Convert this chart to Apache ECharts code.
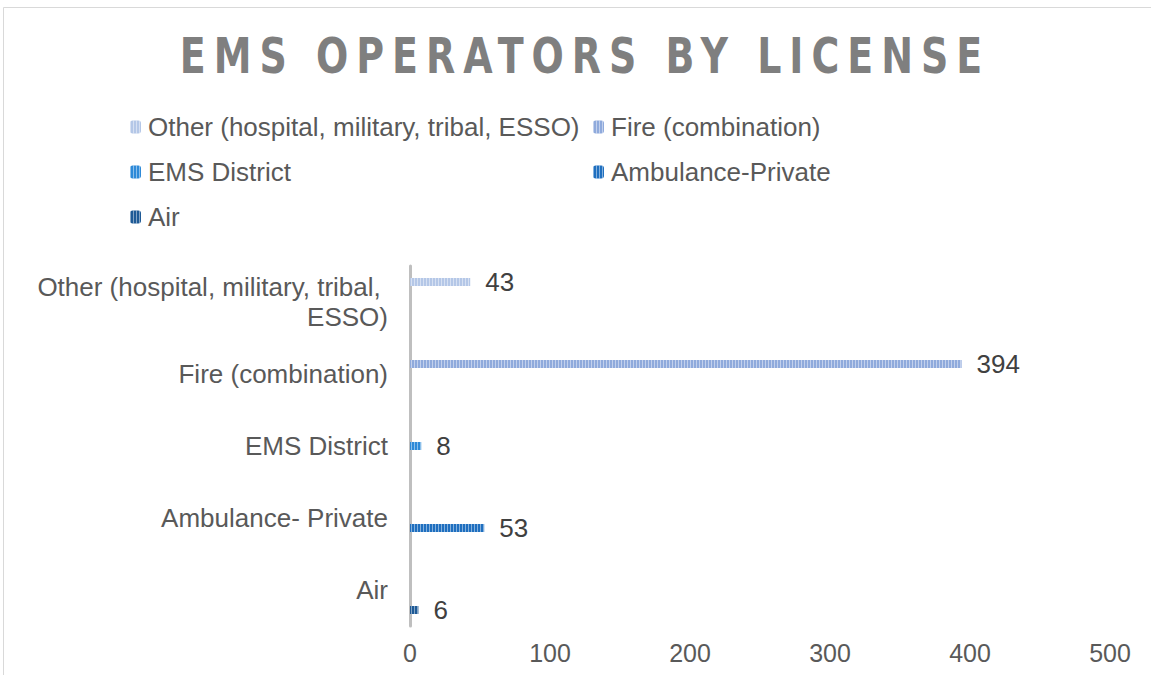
<!DOCTYPE html>
<html>
<head>
<meta charset="utf-8">
<title>EMS Operators by License</title>
<script src="https://cdn.jsdelivr.net/npm/echarts@6/dist/echarts.min.js"></script>
<style>
  html, body { margin: 0; padding: 0; background: #fff; }
  #chart { width: 1151px; height: 675px; }
</style>
</head>
<body>
<div id="chart"></div>
<script>
// categories bottom to top (ECharts category y axis starts at the bottom)
const categories = ['Air', 'Ambulance- Private', 'EMS District', 'Fire (combination)', 'Other (hospital, military, tribal, ESSO)']
const counts = [6, 53, 8, 394, 43]

// series in legend order; each one holds the value of a single category
const seriesNames = ['Other (hospital, military, tribal, ESSO)', 'Fire (combination)', 'EMS District', 'Ambulance-Private', 'Air']
const seriesCategory = [4, 3, 2, 1, 0]
const seriesColors = ['#b4c7e7', '#8faadc', '#2e8ad8', '#1f6fbf', '#1e5a96']

const xTicks = [0, 100, 200, 300, 400, 500]

const labelFont = "'Liberation Sans', Arial, sans-serif"
const titleText = 'EMS OPERATORS BY LICENSE'

const chart = echarts.init(document.getElementById('chart'), null, { renderer: 'svg' })

const series = seriesNames.map((name, i) => {
  return {
    name: name,
    type: 'bar',
    barWidth: 8,
    barGap: '25%',
    itemStyle: {
      color: seriesColors[i],
      decal: {
        symbol: 'rect',
        symbolSize: 1,
        dashArrayX: [1, 2],
        dashArrayY: [10, 0],
        rotation: 0,
        color: 'rgba(255,255,255,0.45)'
      }
    },
    label: {
      show: true,
      position: 'right',
      distance: 15,
      color: '#404040',
      fontSize: 26,
      fontFamily: labelFont,
      formatter: p => (p.value == null ? '' : p.value)
    },
    data: categories.map((c, k) => (k === seriesCategory[i] ? counts[k] : null))
  }
})

const legendText = {
  color: '#595959',
  fontSize: 26,
  fontFamily: labelFont,
  lineHeight: 30,
  padding: [0, 0, 0, 2]
}

const option = {
  animation: false,
  graphic: [
    {
      type: 'rect',
      shape: { x: 3.5, y: 7.5, width: 1170, height: 700 },
      style: { fill: 'none', stroke: '#d9d9d9', lineWidth: 1 },
      silent: true
    },
    {
      type: 'text',
      x: 585,
      y: 56,
      scaleX: 0.76,
      style: {
        text: titleText,
        fill: '#7f7f7f',
        font: "bold 50px 'DejaVu Sans', sans-serif",
        textAlign: 'center',
        textVerticalAlign: 'middle'
      },
      silent: true
    }
  ],
  legend: [
    {
      data: [seriesNames[0], seriesNames[2], seriesNames[4]],
      orient: 'vertical',
      left: 125,
      top: 107,
      itemWidth: 11,
      itemHeight: 13,
      itemGap: 15,
      selectedMode: false,
      textStyle: legendText
    },
    {
      data: [seriesNames[1], seriesNames[3]],
      orient: 'vertical',
      left: 588,
      top: 107,
      itemWidth: 11,
      itemHeight: 13,
      itemGap: 15,
      selectedMode: false,
      textStyle: legendText
    }
  ],
  grid: {
    left: 410,
    right: 41,
    top: 266,
    bottom: 49,
    containLabel: false
  },
  xAxis: {
    type: 'value',
    min: xTicks[0],
    max: xTicks[xTicks.length - 1],
    interval: 100,
    axisLine: { show: false },
    axisTick: { show: false },
    splitLine: { show: false },
    axisLabel: {
      margin: 14,
      color: '#595959',
      fontSize: 25,
      fontFamily: labelFont
    }
  },
  yAxis: {
    type: 'category',
    data: categories,
    axisLine: { show: true, lineStyle: { color: '#bfbfbf', width: 3 } },
    axisTick: { show: false },
    axisLabel: {
      margin: 22,
      color: '#595959',
      fontSize: 26,
      fontFamily: labelFont,
      lineHeight: 30,
      width: 380,
      overflow: 'break'
    }
  },
  series: series
}

chart.setOption(option)

// spread the title letters like the original
function spaceTitle () {
  document.querySelectorAll('#chart svg text').forEach(t => {
    if (t.textContent === titleText) {
      t.style.letterSpacing = '10.5px'
    }
  })
}
chart.on('finished', spaceTitle)
spaceTitle()
</script>
</body>
</html>
